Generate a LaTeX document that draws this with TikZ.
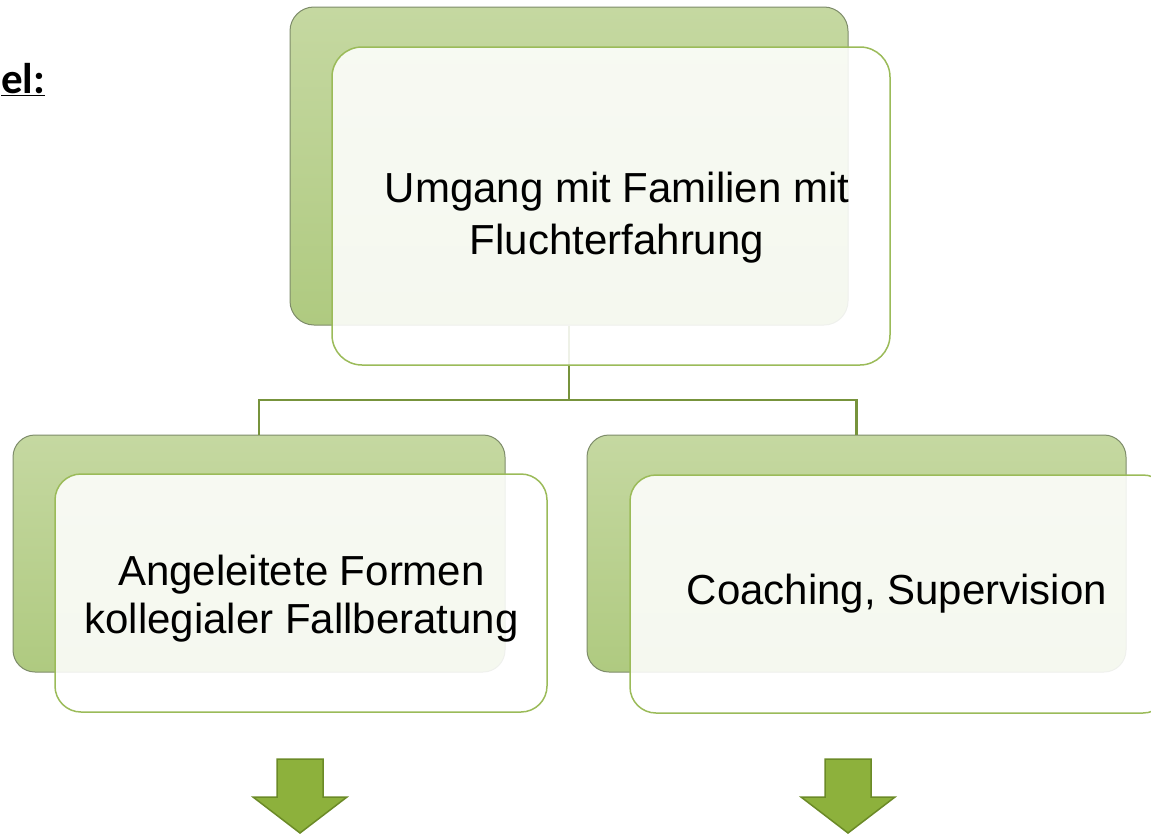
\documentclass[tikz,border=0pt]{standalone}
\usepackage{fontspec}
\setmainfont{Liberation Sans}
\newfontfamily\calibri{Carlito}
\definecolor{backtop}{HTML}{C5D8A1}
\definecolor{backbot}{HTML}{AFCA80}
\definecolor{backedge}{HTML}{7E8C6A}
\definecolor{frontedge}{HTML}{9BBB59}
\definecolor{linkgreen}{HTML}{77933C}
\definecolor{arrowfill}{HTML}{8DB13C}
\definecolor{arrowedge}{HTML}{6B8A27}
\tikzset{
  backbox/.style={draw=backedge, line width=1pt, top color=backtop, bottom color=backbot, inner sep=0pt},
  frontbox/.style={draw=frontedge, line width=1.5pt, fill=white, fill opacity=0.88, inner sep=0pt},
  boxtext/.style={align=center, font=\fontsize{42}{52}\selectfont, inner sep=0pt},
  link/.style={draw=linkgreen, line width=2.5pt},
  blockarrow/.style={fill=arrowfill, draw=arrowedge, line width=1.5pt, line join=miter}
}
\begin{document}
\begin{tikzpicture}[x=1pt,y=-1pt]
\useasboundingbox (0,0) rectangle (1151,835);
\clip (0,0) rectangle (1151,835);
\node[anchor=base west, font=\calibri\bfseries\fontsize{43}{50}\selectfont, inner sep=0pt] (title) at (1,93) {\underline{el:}};
\node[backbox, rounded corners=24pt, minimum width=558pt, minimum height=318pt] (topback) at (569,166) {};
\node[backbox, rounded corners=22pt, minimum width=492pt, minimum height=237pt] (leftback) at (259,553.5) {};
\node[backbox, rounded corners=22pt, minimum width=539pt, minimum height=237pt] (rightback) at (856.5,553.5) {};
\coordinate (split) at (569,400);
\draw[link] (topback.south) -- (split) -| (leftback.north);
\draw[link] (split) -| (rightback.north);
\node[frontbox, rounded corners=30pt, minimum width=558pt, minimum height=318pt] (topfront) at (611,206) {};
\node[frontbox, rounded corners=26pt, minimum width=492pt, minimum height=238pt] (leftfront) at (301,593) {};
\node[frontbox, rounded corners=26pt, minimum width=539pt, minimum height=238pt] (rightfront) at (899.5,594) {};
\node[boxtext] (toptext) at (617,218) {Umgang mit Familien mit\\Fluchterfahrung};
\node[boxtext, font=\fontsize{42}{48}\selectfont] (lefttext) at (301.5,598.5) {Angeleitete Formen\\kollegialer Fallberatung};
\node[boxtext] (righttext) at (897,594) {Coaching, Supervision};
\draw[blockarrow] (277,759) -- (323,759) -- (323,797) -- (347,797) -- (300,833) -- (253,797) -- (277,797) -- cycle;
\begin{scope}[xshift=548pt]
\draw[blockarrow] (277,759) -- (323,759) -- (323,797) -- (347,797) -- (300,833) -- (253,797) -- (277,797) -- cycle;
\end{scope}
\end{tikzpicture}
\end{document}
